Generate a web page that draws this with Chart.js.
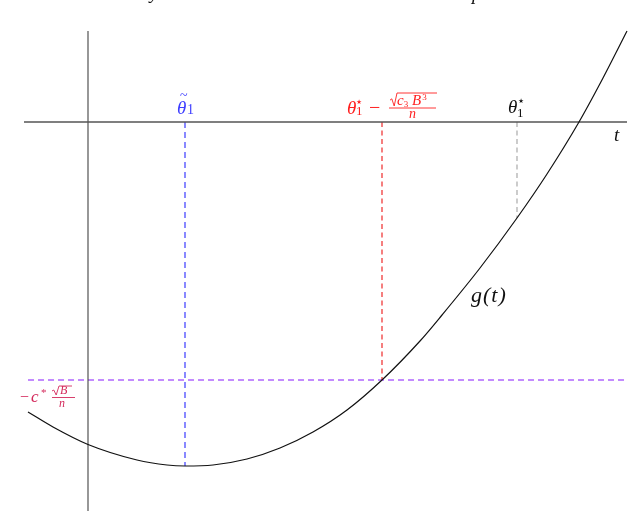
<!DOCTYPE html>
<html lang="en">
<head>
    <meta charset="UTF-8">
    <title>g(t) sketch</title>
    <script src="https://cdn.jsdelivr.net/npm/chart.js"></script>
    <style>
        body { margin: 0; background-color: white; }
        canvas { display: block; }
    </style>
</head>
<body>
    <canvas id="sketch" width="640" height="511"></canvas>

    <script>
        // curve g(t) (1 unit = 100px, origin where the axes cross)
        const curveT = [-0.60, -0.35, 0, 0.49, 0.79, 0.97, 1.25, 1.59, 1.92, 2.25, 2.59, 2.94, 3.32, 3.54, 3.92, 4.29, 4.59, 4.91, 5.15, 5.39];
        const curveG = [-2.90, -3.05, -3.225, -3.38, -3.43, -3.44, -3.43, -3.37, -3.26, -3.10, -2.88, -2.58, -2.19, -1.93, -1.46, -0.96, -0.52, 0, 0.44, 0.91];

        // marked points: theta tilde, theta* - sqrt(c3 B^3)/n, theta*
        const markerT = [0.97, 2.94, 4.29];
        const markerG = [-3.44, -2.58, -0.96];
        const levelG = -2.58;           // -c* sqrt(B)/n

        // axis extents
        const tAxis = [-0.64, 5.39];
        const gAxis = [0.91, -3.89];

        const SERIF = '"Liberation Serif", "DejaVu Serif", serif';

        function segment(x1, y1, x2, y2) {
            return [{ x: x1, y: y1 }, { x: x2, y: y2 }];
        }

        function line(data, color, width, dash) {
            return {
                data: data,
                borderColor: color,
                borderWidth: width,
                borderDash: dash || [],
                pointRadius: 0,
                fill: false
            };
        }

        // draws text, returns the x where the next piece starts
        function txt(ctx, s, x, y, size, color, style) {
            ctx.font = (style || 'italic') + ' ' + size + 'px ' + SERIF;
            ctx.fillStyle = color;
            ctx.fillText(s, x, y);
            return x + ctx.measureText(s).width;
        }

        function star(ctx, x, y, size, color) {
            ctx.font = size + 'px "DejaVu Sans"';
            ctx.fillStyle = color;
            ctx.fillText('\u22C6', x, y);
        }

        function sqrtSign(ctx, x, base, h, w, color) {
            ctx.strokeStyle = color;
            ctx.lineWidth = 0.9;
            ctx.beginPath();
            ctx.moveTo(x, base - h * 0.45);
            ctx.lineTo(x + 1.8, base - h * 0.55);
            ctx.lineTo(x + 4.2, base);
            ctx.lineTo(x + 7, base - h);
            ctx.lineTo(x + 7 + w, base - h);
            ctx.stroke();
        }

        function bar(ctx, x1, x2, y, color) {
            ctx.strokeStyle = color;
            ctx.lineWidth = 0.9;
            ctx.beginPath();
            ctx.moveTo(x1, y);
            ctx.lineTo(x2, y);
            ctx.stroke();
        }

        // LaTeX-like labels drawn next to the marks
        const mathLabels = {
            id: 'mathLabels',
            afterDatasetsDraw(chart) {
                const ctx = chart.ctx;
                const xs = chart.scales.x, ys = chart.scales.y;
                const y0 = ys.getPixelForValue(0);
                ctx.save();
                ctx.textBaseline = 'alphabetic';

                // cut-off caption above the figure
                txt(ctx, 'y', 150, -1, 19, '#111');
                txt(ctx, 'p', 472, 0, 19, '#111');

                // theta tilde
                const bx = xs.getPixelForValue(markerT[0]);
                const blue = '#3d3dff';
                txt(ctx, '\u03B8', bx - 8, y0 - 8, 19, blue);
                txt(ctx, '~', bx - 5, y0 - 22, 14, blue, 'normal');
                txt(ctx, '1', bx + 2, y0 - 8, 14, blue, 'normal');

                // theta* - sqrt(c3 B^3)/n
                const rx = xs.getPixelForValue(markerT[1]);
                const red = '#ff1f1f';
                txt(ctx, '\u03B8', rx - 35, y0 - 8, 19, red);
                star(ctx, rx - 27, y0 - 16, 13, red);
                txt(ctx, '1', rx - 26, y0 - 7, 13, red, 'normal');
                txt(ctx, '\u2212', rx - 13, y0 - 8, 20, red, 'normal');
                bar(ctx, rx + 7, rx + 54, y0 - 14, red);
                sqrtSign(ctx, rx + 8, y0 - 16, 13, 40, red);
                let cx = txt(ctx, 'c', rx + 15, y0 - 17, 15, red);
                txt(ctx, '3', cx, y0 - 15, 9, red, 'normal');
                cx = txt(ctx, 'B', rx + 30, y0 - 17, 15, red);
                txt(ctx, '3', cx + 1, y0 - 22, 9, red, 'normal');
                txt(ctx, 'n', rx + 27, y0 - 4, 14, red);

                // theta*
                const sx = xs.getPixelForValue(markerT[2]);
                txt(ctx, '\u03B8', sx - 9, y0 - 9, 19, '#111');
                star(ctx, sx, y0 - 17, 13, '#111');
                txt(ctx, '1', sx, y0 - 5, 13, '#111', 'normal');

                // axis name and curve name
                txt(ctx, 't', 614, y0 + 19, 19, '#111');
                ctx.letterSpacing = '1px';
                txt(ctx, 'g(t)', 471, ys.getPixelForValue(-1.80), 22, '#111');
                ctx.letterSpacing = '0px';

                // level -c* sqrt(B)/n
                const ly = ys.getPixelForValue(levelG);
                const crimson = '#d42a5c';
                txt(ctx, '\u2212', 20, ly + 22, 16, crimson, 'normal');
                txt(ctx, 'c', 31, ly + 22, 17, crimson);
                txt(ctx, '*', 41, ly + 16, 11, crimson, 'normal');
                sqrtSign(ctx, 52, ly + 15, 9, 13, crimson);
                txt(ctx, 'B', 60, ly + 14, 12, crimson);
                bar(ctx, 52, 75, ly + 17.5, crimson);
                txt(ctx, 'n', 59, ly + 27, 12, crimson);

                ctx.restore();
            }
        };

        const curve = curveT.map((t, i) => ({ x: t, y: curveG[i] }));

        const datasets = [
            Object.assign(line(curve, '#111111', 1.2), { cubicInterpolationMode: 'monotone' }),
            line(segment(tAxis[0], 0, tAxis[1], 0), '#555555', 1.3),
            line(segment(0, gAxis[0], 0, gAxis[1]), '#444444', 1.1),
            line(segment(markerT[0], 0, markerT[0], markerG[0]), '#4a4aff', 1.3, [6, 4]),
            line(segment(markerT[1], 0, markerT[1], markerG[1]), '#ee2a2a', 1.2, [5, 3.5]),
            line(segment(markerT[2], 0, markerT[2], markerG[2]), '#aaaaaa', 1.2, [5, 3.5]),
            line(segment(-0.60, levelG, tAxis[1], levelG), '#b066ff', 1.3, [6, 4])
        ];

        new Chart(document.getElementById('sketch').getContext('2d'), {
            type: 'line',
            data: { datasets: datasets },
            options: {
                responsive: false,
                animation: false,
                layout: { padding: 0 },
                plugins: { legend: { display: false }, tooltip: { enabled: false } },
                scales: {
                    x: { type: 'linear', min: -0.88, max: 5.52, display: false },
                    y: { type: 'linear', min: -3.89, max: 1.22, display: false }
                }
            },
            plugins: [mathLabels]
        });
    </script>
</body>
</html>
